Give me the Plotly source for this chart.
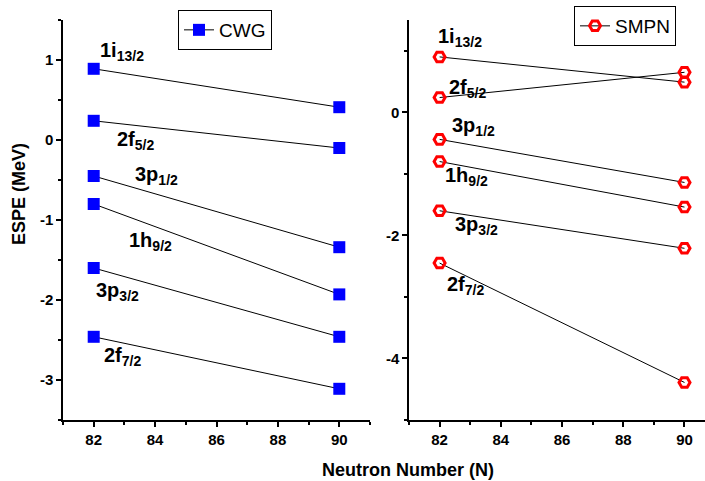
import plotly.graph_objects as go

# ---------------- data ----------------
neutrons = [82, 90]
orbitals = ["1i13/2", "2f5/2", "3p1/2", "1h9/2", "3p3/2", "2f7/2"]
orbital_labels = ["1i<sub>13/2</sub>", "2f<sub>5/2</sub>", "3p<sub>1/2</sub>",
                  "1h<sub>9/2</sub>", "3p<sub>3/2</sub>", "2f<sub>7/2</sub>"]
cwg_n82 = [0.89, 0.24, -0.45, -0.80, -1.60, -2.46]
cwg_n90 = [0.41, -0.10, -1.34, -1.93, -2.46, -3.11]
smpn_n82 = [0.90, 0.24, -0.44, -0.80, -1.60, -2.45]
smpn_n90 = [0.49, 0.65, -1.14, -1.54, -2.21, -4.39]

x_tickvals = [82, 84, 86, 88, 90]
x_ticktext = ["82", "84", "86", "88", "90"]
y1_tickvals = [1, 0, -1, -2, -3]
y1_ticktext = ["1", "0", "-1", "-2", "-3"]
y2_tickvals = [0, -2, -4]
y2_ticktext = ["0", "-2", "-4"]

# label placements (layout only)
cwg_label_pos = [(82.13, 1.285), (82.68, 0.175), (83.27, -0.265),
                 (83.10, -1.085), (82.00, -1.715), (82.26, -2.525)]
smpn_label_pos = [(81.88, 1.45), (82.24, 0.63), (82.33, 0.01),
                  (82.11, -0.80), (82.43, -1.60), (82.17, -2.58)]

FONT = "Arial, Liberation Sans, sans-serif"
W, H = 705, 481

fig = go.Figure()

for i, name in enumerate(orbitals):
    fig.add_trace(go.Scatter(
        x=neutrons, y=[cwg_n82[i], cwg_n90[i]], mode="lines+markers",
        name="CWG", legend="legend", showlegend=(i == 0),
        line=dict(color="black", width=1),
        marker=dict(symbol="square", size=12, color="#0000ff"),
        xaxis="x", yaxis="y"))
for i, name in enumerate(orbitals):
    fig.add_trace(go.Scatter(
        x=neutrons, y=[smpn_n82[i], smpn_n90[i]], mode="lines+markers",
        name="SMPN", legend="legend2", showlegend=(i == 0),
        line=dict(color="black", width=1),
        marker=dict(symbol="hexagon2-open", size=11, color="#ff0000",
                    line=dict(width=3, color="#ff0000")),
        xaxis="x2", yaxis="y2"))

ann = []
for (x, y), t in zip(cwg_label_pos, orbital_labels):
    ann.append(dict(x=x, y=y, xref="x", yref="y", text=t,
                    showarrow=False, xanchor="left", yanchor="top",
                    font=dict(family=FONT, size=20, color="black", weight="bold")))
for (x, y), t in zip(smpn_label_pos, orbital_labels):
    ann.append(dict(x=x, y=y, xref="x2", yref="y2", text=t,
                    showarrow=False, xanchor="left", yanchor="top",
                    font=dict(family=FONT, size=20, color="black", weight="bold")))
ann.append(dict(x=408 / W, y=1 - 470 / H, xref="paper", yref="paper",
                text="Neutron Number (N)", showarrow=False,
                xanchor="center", yanchor="middle",
                font=dict(family=FONT, size=18, color="black", weight="bold")))
ann.append(dict(x=19 / W, y=1 - 194 / H, xref="paper", yref="paper",
                text="ESPE (MeV)", showarrow=False, textangle=-90,
                xanchor="center", yanchor="middle",
                font=dict(family=FONT, size=18, color="black", weight="bold")))

ydom = [1 - 420 / H, 1 - 20 / H]
axis_common = dict(showline=True, linecolor="black", linewidth=1.5,
                   ticks="outside", ticklen=5, tickwidth=1.5, tickcolor="black",
                   showgrid=False, zeroline=False,
                   tickfont=dict(family=FONT, size=15, color="black", weight="bold"))
minor_common = dict(ticks="outside", ticklen=3, tickwidth=1.5, tickcolor="black")

fig.update_layout(
    width=W, height=H, margin=dict(l=0, r=0, t=0, b=0),
    plot_bgcolor="white", paper_bgcolor="white",
    xaxis=dict(domain=[63 / W, 370 / W], range=[81, 91], anchor="y",
               tickmode="array", tickvals=x_tickvals, ticktext=x_ticktext,
               minor=dict(dtick=1, tick0=81, **minor_common),
               **axis_common),
    yaxis=dict(domain=ydom, range=[-3.5, 1.5], anchor="x",
               tickmode="array", tickvals=y1_tickvals, ticktext=y1_ticktext,
               minor=dict(dtick=0.5, tick0=0, **minor_common),
               **axis_common),
    xaxis2=dict(domain=[409 / W, 1.0], range=[81, 90.67], anchor="y2",
                tickmode="array", tickvals=x_tickvals, ticktext=x_ticktext,
                minor=dict(dtick=1, tick0=81, **minor_common),
                **axis_common),
    yaxis2=dict(domain=ydom, range=[-5, 1.5], anchor="x2",
                tickmode="array", tickvals=y2_tickvals, ticktext=y2_ticktext,
                minor=dict(dtick=1, tick0=0, **minor_common),
                **axis_common),
    legend=dict(x=178 / W, y=1 - 10 / H, xanchor="left", yanchor="top",
                bordercolor="black", borderwidth=1, bgcolor="white",
                font=dict(family=FONT, size=19, color="black"),
                tracegroupgap=0),
    legend2=dict(x=574 / W, y=1 - 6 / H, xanchor="left", yanchor="top",
                 bordercolor="black", borderwidth=1, bgcolor="white",
                 font=dict(family=FONT, size=19, color="black"),
                 tracegroupgap=0),
    annotations=ann,
)

fig.write_html("out.html")
